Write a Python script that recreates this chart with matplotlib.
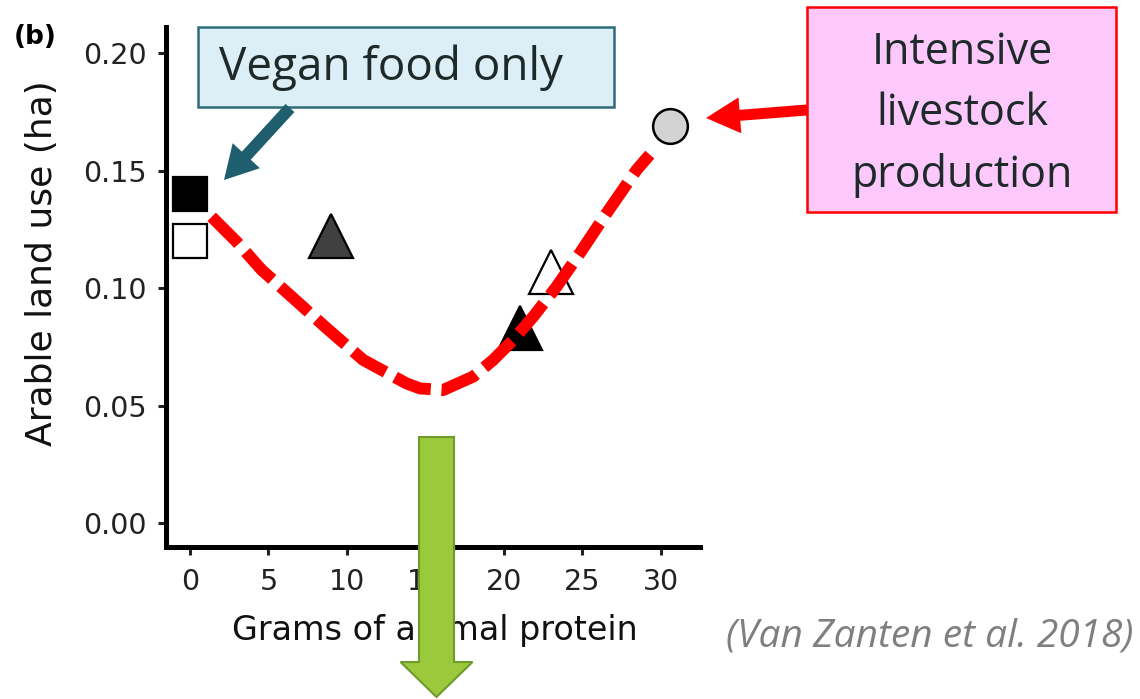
import matplotlib
matplotlib.use("Agg")
import matplotlib.pyplot as plt
from matplotlib.patches import Rectangle, FancyArrow

# ---- data ----
sq_x = [0, 0]
sq_y = [0.14, 0.12]
sq_fill = ["black", "white"]

tri_x = [9.0, 21.0, 23.0]
tri_y = [0.122, 0.083, 0.107]
tri_fill = ["#404040", "black", "white"]

circ_x = [30.6]
circ_y = [0.169]

curve_x = [1.38, 2.97, 4.57, 6.48, 8.71, 11.04, 13.80, 14.65, 16.13, 18.04, 19.32,
           20.59, 21.87, 23.36, 24.84, 26.54, 28.45, 29.3]
curve_y = [0.1303, 0.1197, 0.1077, 0.0963, 0.0829, 0.0694, 0.0594, 0.0573, 0.0566,
           0.0623, 0.0694, 0.0779, 0.0878, 0.1006, 0.1148, 0.1318, 0.1502, 0.1568]

x_ticks = [0, 5, 10, 15, 20, 25, 30]
y_ticks = [0.00, 0.05, 0.10, 0.15, 0.20]
y_tick_labels = ["0.00", "0.05", "0.10", "0.15", "0.20"]

W, H = 1140, 699
fig = plt.figure(figsize=(W / 100, H / 100), dpi=100)
fig.patch.set_facecolor("white")

def fx(px):
    return px / W

def fy(py):
    return 1 - py / H

ax = fig.add_axes([fx(166), fy(547), (700 - 166) / W, (547 - 27) / H])
ax.set_xlim(-1.53, 32.5)
ax.set_ylim(-0.0102, 0.2111)
for s in ["top", "right"]:
    ax.spines[s].set_visible(False)
for s in ["left", "bottom"]:
    ax.spines[s].set_linewidth(3.6)
    ax.spines[s].set_color("black")
    ax.spines[s].set_capstyle("projecting")
ax.set_xticks(x_ticks)
ax.set_yticks(y_ticks)
ax.set_yticklabels(y_tick_labels)
ax.tick_params(axis="both", length=6, width=2.2, color="#222222",
               labelsize=20.5, labelcolor="#222222")
ax.tick_params(axis="x", pad=9)
ax.tick_params(axis="y", pad=8)

for x, y, f in zip(sq_x, sq_y, sq_fill):
    ax.plot([x], [y], marker="s", ms=25, mfc=f, mec="black", mew=1.6,
            ls="none", clip_on=False, zorder=3)
for x, y, f in zip(tri_x, tri_y, tri_fill):
    ax.plot([x], [y], marker="^", ms=31, mfc=f, mec="black", mew=1.6,
            ls="none", clip_on=False, zorder=3)
ax.plot(circ_x, circ_y, marker="o", ms=25, mfc="#D3D3D3", mec="black",
        mew=1.8, ls="none", clip_on=False, zorder=3)

ax.plot(curve_x, curve_y, color="#FF0000", lw=8.6, dashes=(3.2, 0.9),
        dash_capstyle="butt", solid_joinstyle="round", clip_on=False, zorder=4)

ax.set_xlabel("Grams of animal protein", fontsize=24, color="#111111")
ax.xaxis.set_label_coords(0.504, -0.16)
ax.set_ylabel("Arable land use (ha)", fontsize=26, color="#111111")
ax.yaxis.set_label_coords(-0.232, 0.546)
ax.xaxis.label.set_va("center")
ax.yaxis.label.set_va("center")

fig.text(fx(14), fy(37), "(b)", fontsize=19, fontweight="bold", va="center", ha="left")

# ---- overlay for annotations ----
ov = fig.add_axes([0, 0, 1, 1])
ov.set_xlim(0, W)
ov.set_ylim(H, 0)
ov.axis("off")
ov.patch.set_alpha(0)

calibri_like = ["Open Sans", "DejaVu Sans"]

ov.add_patch(Rectangle((198, 27), 614 - 198, 107 - 27, facecolor="#DDEFF6",
                       edgecolor="#2E6B7B", lw=1.8))
ov.text(391, 68, "Vegan food only", family=calibri_like, fontsize=33,
        color="#1E2A2A", ha="center", va="center")
ov.add_patch(FancyArrow(290, 108, 224 - 290, 180 - 108, width=12, head_width=37,
                        head_length=33, length_includes_head=True,
                        facecolor="#1F5E6E", edgecolor="none"))

ov.add_patch(Rectangle((807, 7), 1116 - 807, 212 - 7, facecolor="#FDC8FC",
                       edgecolor="#FF0000", lw=1.8))
ov.text(962, 114, "Intensive\nlivestock\nproduction", family=calibri_like,
        fontsize=31, color="#1E2A2A", ha="center", va="center", linespacing=1.5)
ov.add_patch(FancyArrow(807, 110, 706 - 807, 118 - 110, width=11, head_width=36,
                        head_length=34, length_includes_head=True,
                        facecolor="#FF0000", edgecolor="none"))

ov.add_patch(FancyArrow(436.5, 437, 0, 697 - 437, width=35, head_width=72,
                        head_length=35, length_includes_head=True,
                        facecolor="#9ACA3C", edgecolor="#6F9A2C", lw=1.5))

ov.text(1133, 637, "(Van Zanten et al. 2018)", family=calibri_like, style="italic",
        fontsize=28, color="#7F7F7F", ha="right", va="center")

fig.savefig("out.png", dpi=100, facecolor="white")
